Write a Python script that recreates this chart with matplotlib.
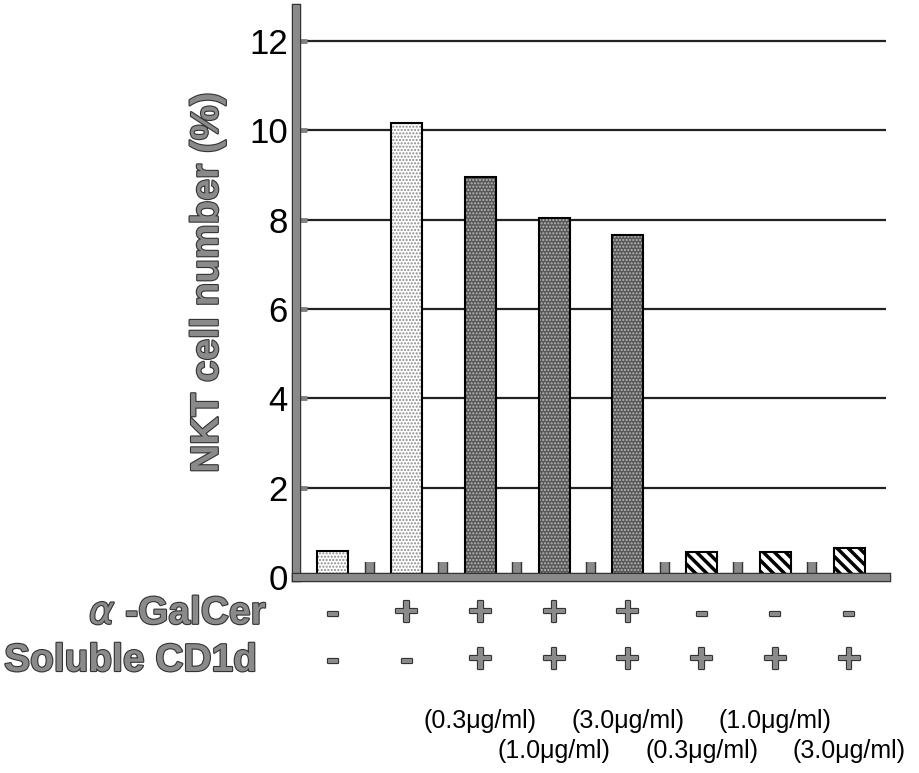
import matplotlib
matplotlib.use("Agg")
import matplotlib.pyplot as plt
import matplotlib.patheffects as pe
import matplotlib.transforms as mtransforms
import numpy as np

plt.rcParams['font.family'] = ['Liberation Sans', 'DejaVu Sans']

values = [0.59, 10.16, 8.95, 8.04, 7.66, 0.57, 0.55, 0.66]
galcer = ['-', '+', '+', '+', '+', '-', '-', '-']
cd1d = ['-', '-', '+', '+', '+', '+', '+', '+']
conc_row1 = {2: '(0.3μg/ml)', 4: '(3.0μg/ml)', 6: '(1.0μg/ml)'}
conc_row2 = {3: '(1.0μg/ml)', 5: '(0.3μg/ml)', 7: '(3.0μg/ml)'}
yticks = [0, 2, 4, 6, 8, 10, 12]

W, H = 920, 773
fig = plt.figure(figsize=(W / 100, H / 100), dpi=100)
ax = fig.add_axes([296 / W, 1 - 577 / H, 590 / W, 569 / H])
x = np.arange(len(values))
w = 0.42

with plt.rc_context({'hatch.linewidth': 1.0}):
    ax.bar(x[:2], values[:2], w, facecolor='white', edgecolor='#8a8a8a', hatch='.....', lw=0, zorder=3)
    ax.bar(x[2:5], values[2:5], w, facecolor='#585858', edgecolor='#b8b8b8', hatch='.....', lw=0, zorder=3)
with plt.rc_context({'hatch.linewidth': 2.5}):
    ax.bar(x[5:], values[5:], w, facecolor='white', edgecolor='black', hatch='\\\\\\', lw=0, zorder=3)
ax.bar(x, values, w, fill=False, edgecolor='black', lw=1.5, zorder=4)

ax.set_xlim(-0.5, 7.5)
ax.set_ylim(0, 12.74)
ax.set_yticks(yticks)
ax.set_yticklabels([str(v) for v in yticks], fontsize=25)
ax.yaxis.grid(True, color='#222222', lw=1.6, zorder=1)
ax.set_axisbelow(True)
ax.tick_params(axis='y', direction='in', length=8, width=3.5, color='#808080', pad=6)
ax.set_xticks([])
ax.set_xticks(np.arange(0.5, 7.5, 1), minor=True)
ax.tick_params(axis='x', which='minor', direction='in', length=11, width=5.5, color='#8a8a8a')
for t in ax.xaxis.get_minor_ticks():
    t.tick1line.set_path_effects([pe.Stroke(linewidth=7.5, foreground='#333333'), pe.Normal()])

for s in ['top', 'right']:
    ax.spines[s].set_visible(False)
for s in ['left', 'bottom']:
    ax.spines[s].set_color('#8a8a8a')
    ax.spines[s].set_linewidth(5)
    ax.spines[s].set_path_effects([pe.Stroke(linewidth=6.8, foreground='#333333'), pe.Normal()])
    ax.spines[s].set_zorder(5)

outline = [pe.withStroke(linewidth=1.6, foreground='#333333')]
ax.set_ylabel('NKT cell number (%)', fontsize=28, fontweight='bold', color='#8a8a8a',
              path_effects=outline)
ax.yaxis.set_label_coords(-0.119, 0.517)

trans = mtransforms.blended_transform_factory(ax.transData, fig.transFigure)
fig.text(267 / W, 1 - 614 / H, r'$\alpha$ -GalCer', ha='right', va='center', fontsize=28,
         fontweight='bold', color='#8a8a8a', path_effects=outline)
fig.text(257 / W, 1 - 661 / H, 'Soluble CD1d', ha='right', va='center', fontsize=28,
         fontweight='bold', color='#8a8a8a', path_effects=outline)
for i in range(len(values)):
    for sym, yy in ((galcer[i], 614), (cd1d[i], 661)):
        fig.text(i, 1 - yy / H, sym, transform=trans, ha='center', va='center',
                 fontsize=30 if sym == '+' else 28, fontweight='bold', color='#8a8a8a',
                 path_effects=outline)
for i, t in conc_row1.items():
    fig.text(i, 1 - 721 / H, t, transform=trans, ha='center', va='center', fontsize=18)
for i, t in conc_row2.items():
    fig.text(i, 1 - 751 / H, t, transform=trans, ha='center', va='center', fontsize=18)

fig.savefig('out.png', dpi=100)
